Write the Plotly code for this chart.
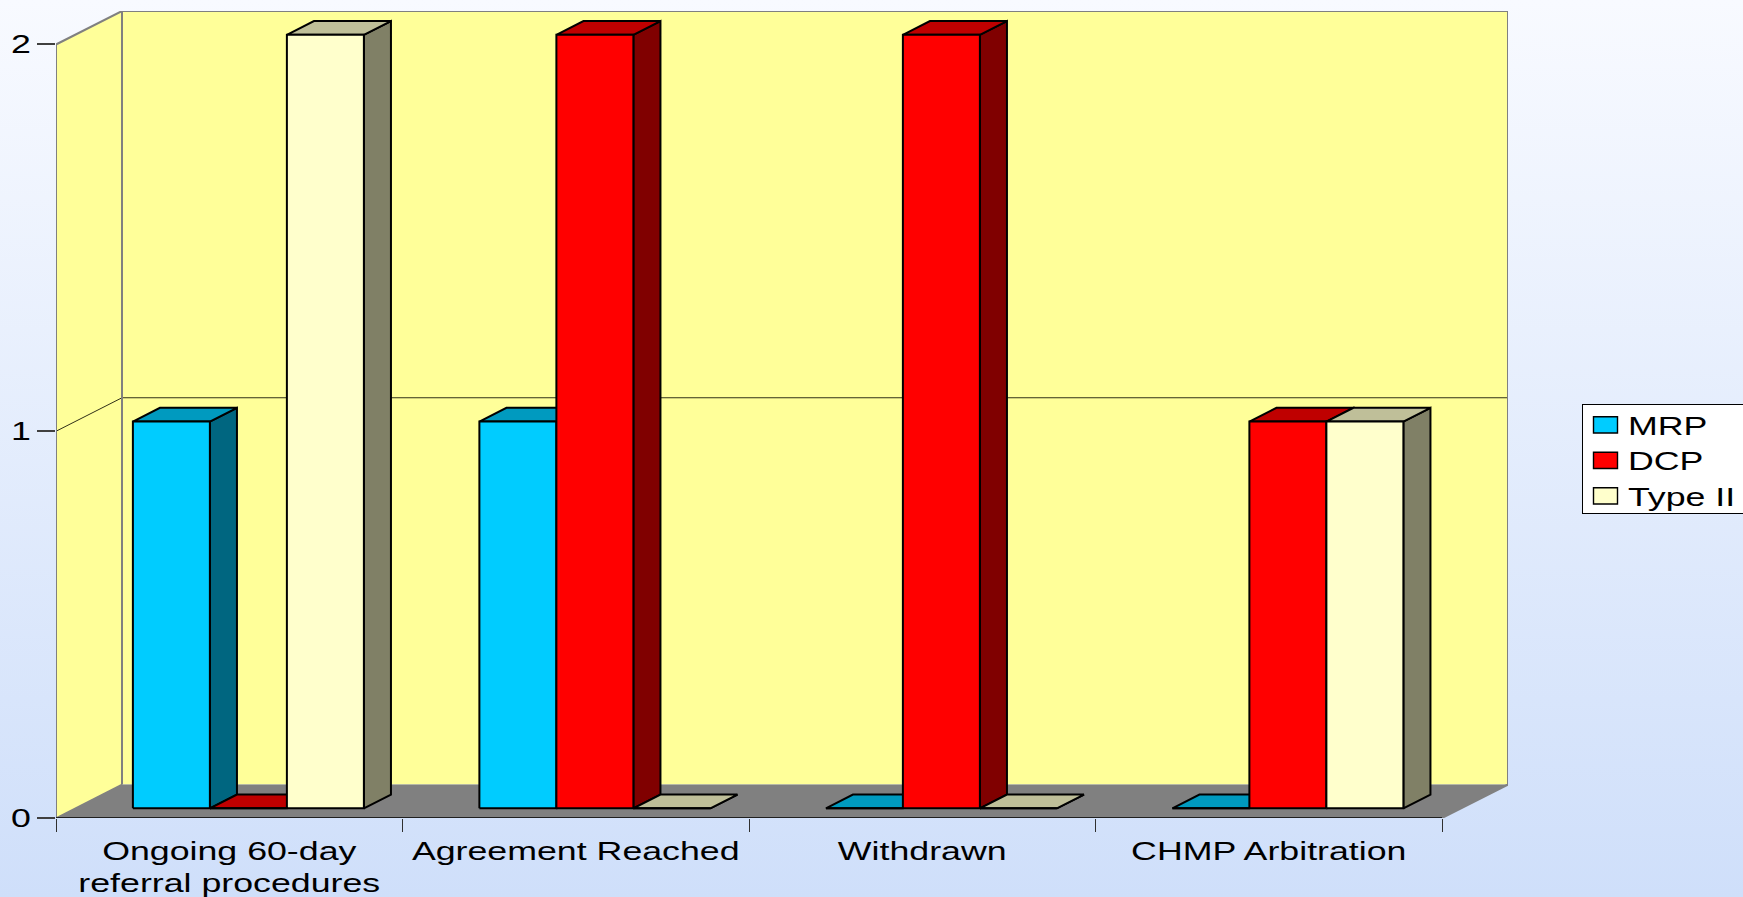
import plotly.graph_objects as go

# ---------- data ----------
categories = ["Ongoing 60-day<br>referral procedures", "Agreement Reached", "Withdrawn", "CHMP Arbitration"]
mrp = [1, 1, 0, 0]
dcp = [0, 2, 2, 1]
type_ii = [2, 0, 0, 1]
series_names = ["MRP", "DCP", "Type II"]
y_ticks = [0, 1, 2]

# ---------- styles ----------
front_colors = ["#00CCFF", "#FF0000", "#FFFFCC"]
top_colors = ["#009ABF", "#BF0000", "#BFBF99"]
side_colors = ["#006680", "#800000", "#808066"]
WALL = "#FFFF99"
FLOOR = "#808080"
EDGE = "#808080"
FONT = "Liberation Sans"
SIZE = 25

# oblique projection, in axis units (categories / values)
DX, DY = 66 / 346.5, 33.5 / 386.85
D_FRONT, D_BACK = 0.29, 0.70
BAR_W = 1 / 4.5
GAP = 0.75 * BAR_W
N = len(categories)
TOP = max(y_ticks)

fig = go.Figure()


def poly(xs, ys, fill, line_color=None, line_width=0):
    fig.add_trace(go.Scatter(
        x=xs, y=ys, mode="lines", fill="toself", fillcolor=fill,
        line=dict(color=line_color or fill, width=line_width),
        showlegend=False, hoverinfo="skip", cliponaxis=False))


def line(xs, ys, color, width):
    fig.add_trace(go.Scatter(
        x=xs, y=ys, mode="lines", line=dict(color=color, width=width),
        showlegend=False, hoverinfo="skip", cliponaxis=False))


# walls and floor
poly([0, DX, DX, 0, 0], [0, DY, TOP + DY, TOP, 0], WALL)
poly([DX, N + DX, N + DX, DX, DX], [DY, DY, TOP + DY, TOP + DY, DY], WALL)
poly([0, N, N + DX, DX, 0], [0, 0, DY, DY, 0], FLOOR)

# gridline
line([0, DX, N + DX], [1, 1 + DY, 1 + DY], "#303018", 1)

# wall edges
line([0, 0, DX, N + DX, N + DX, N], [0, TOP, TOP + DY, TOP + DY, DY, 0], EDGE, 2)
line([DX, DX], [DY, TOP + DY], EDGE, 2)
line([0, DX], [0, DY], EDGE, 1.5)
line([0, N], [0, 0], "#202020", 2)

# bars, painted back to front in series order
for s, vals in enumerate([mrp, dcp, type_ii]):
    sx, sy, tx, ty, fx, fy = [], [], [], [], [], []
    for i, v in enumerate(vals):
        x0 = i + GAP + s * BAR_W
        x1 = x0 + BAR_W
        a0, a1 = x0 + D_FRONT * DX, x1 + D_FRONT * DX
        b0, b1 = x0 + D_BACK * DX, x1 + D_BACK * DX
        yf0, yf1 = D_FRONT * DY, v + D_FRONT * DY
        yb0, yb1 = D_BACK * DY, v + D_BACK * DY
        sx += [a1, b1, b1, a1, a1, None]
        sy += [yf0, yb0, yb1, yf1, yf0, None]
        tx += [a0, a1, b1, b0, a0, None]
        ty += [yf1, yf1, yb1, yb1, yf1, None]
        fx += [a0, a1, a1, a0, a0, None]
        fy += [yf0, yf0, yf1, yf1, yf0, None]
    poly(sx, sy, side_colors[s], "#000000", 2)
    poly(tx, ty, top_colors[s], "#000000", 2)
    poly(fx, fy, front_colors[s], "#000000", 2)

# legend entries
for name, col in zip(series_names, front_colors):
    fig.add_trace(go.Bar(x=[None], y=[None], name=name,
                         marker=dict(color=col, line=dict(color="#000000", width=1.4))))

X_RANGE = [0, (1508 - 56) / 346.5]
Y_RANGE = [0, TOP + DY]

# invisible carrier for the second x axis
fig.add_trace(go.Scatter(x=[None], y=[None], xaxis="x2", showlegend=False, hoverinfo="skip"))

fig.update_layout(
    width=1743, height=897,
    margin=dict(l=56, r=235, t=11, b=79.3, autoexpand=False, pad=0),
    paper_bgcolor="rgba(0,0,0,0)", plot_bgcolor="rgba(0,0,0,0)",
    font=dict(family=FONT, size=SIZE, color="#000000"),
    showlegend=True,
    xaxis=dict(range=X_RANGE, tickmode="array", tickvals=[i + 0.5 for i in range(N)],
               ticktext=categories, ticks="", showgrid=False, zeroline=False, showline=False,
               ticklabelstandoff=16, tickfont=dict(family=FONT, size=SIZE, color="#000000")),
    xaxis2=dict(range=X_RANGE, overlaying="x", side="bottom", anchor="y", tickmode="array",
                tickvals=list(range(N + 1)), ticktext=[""] * (N + 1), ticks="outside", ticklen=13,
                tickwidth=1, tickcolor="#303030", showgrid=False, zeroline=False, showline=False),
    yaxis=dict(range=Y_RANGE, tickmode="array", tickvals=y_ticks, ticks="outside", ticklen=18,
               tickwidth=1.5, tickcolor="#404040", showgrid=False, zeroline=False, showline=False,
               ticklabelstandoff=4, tickfont=dict(family=FONT, size=SIZE, color="#000000")),
    legend=dict(x=(1582 - 56) / 1452, y=(817.7 - 404) / 806.7, xanchor="left", yanchor="top",
                bgcolor="#FFFFFF", bordercolor="#000000", borderwidth=1,
                itemwidth=35, entrywidth=175, entrywidthmode="pixels", traceorder="normal",
                font=dict(family=FONT, size=SIZE, color="#000000")),
)

post = """
var d = document.documentElement, b = document.body;
d.style.height = '100%'; b.style.height = '100%'; b.style.margin = '0'; b.style.overflow = 'hidden';
b.style.background = 'linear-gradient(180deg, #F8FAFF 0%, #CFDFFA 100%)';
var SX = 1.43;
function stretch(el, cx) {
  var t = el.getAttribute('transform') || '';
  el.setAttribute('transform', t + ' translate(' + cx + ',0) scale(' + SX + ',1) translate(' + (-cx) + ',0)');
}
document.querySelectorAll('.xtick text, .ytick text').forEach(function (el) {
  var bb = el.getBBox();
  if (el.textContent) stretch(el, bb.x + bb.width / 2);
});
document.querySelectorAll('.legendtext').forEach(function (el) {
  stretch(el, parseFloat(el.getAttribute('x')) || 0);
});
document.querySelectorAll('.legendpoints path').forEach(function (el) {
  el.setAttribute('transform', (el.getAttribute('transform') || '') + ' scale(2,1.35)');
  el.style.vectorEffect = 'non-scaling-stroke';
});
document.querySelectorAll('.legend .bg').forEach(function (el) {
  el.setAttribute('height', '109');
  el.setAttribute('width', '175');
});
document.querySelectorAll('.legend, .legend .scrollbox').forEach(function (el) {
  el.removeAttribute('clip-path');
  el.style.clipPath = 'none';
});
document.querySelectorAll('.legend .scrollbox').forEach(function (el) {
  el.setAttribute('transform', (el.getAttribute('transform') || '') + ' translate(0,-3)');
});
"""

fig.write_html("out.html", post_script=post, config={"displayModeBar": False})
